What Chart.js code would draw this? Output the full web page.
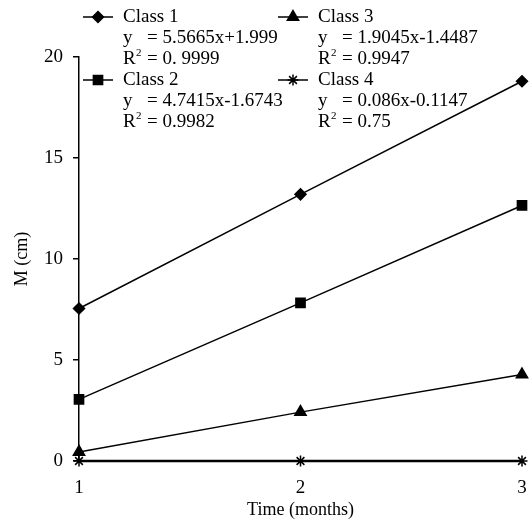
<!DOCTYPE html>
<html>
<head>
<meta charset="utf-8">
<script src="https://cdn.jsdelivr.net/npm/chart.js@4/dist/chart.umd.min.js"></script>
<style>
  html, body { margin: 0; padding: 0; background: #fff; }
  #wrap { width: 530px; height: 522px; }
</style>
</head>
<body>
<div id="wrap"><canvas id="myChart"></canvas></div>
<script>
const months = [1, 2, 3];
const class1 = [7.55, 13.2, 18.8];
const class2 = [3.05, 7.83, 12.65];
const class3 = [0.45, 2.42, 4.28];
const class4 = [0, 0, 0];
const yTicks = [0, 5, 10, 15, 20];

const seriesNames = ['Class 1', 'Class 2', 'Class 3', 'Class 4'];
const equations = ['= 5.5665x+1.999', '= 4.7415x-1.6743', '= 1.9045x-1.4487', '= 0.086x-0.1147'];
const rSquared = ['= 0. 9999', '= 0.9982', '= 0.9947', '= 0.75'];
const styles = ['rectRot', 'rect', 'triangle', 'star'];
const radii = [5.5, 6.5, 6.5, 5.5];

const FONT = '"Liberation Serif", "DejaVu Serif", serif';

function toPoints(vals) {
  return months.map((m, i) => ({ x: m, y: vals[i] }));
}

const allSeries = [class1, class2, class3, class4];

// legend with the fit equations, drawn in the top of the plot
const eqLegend = {
  id: 'eqLegend',
  afterDraw(chart) {
    const c = chart.ctx;
    c.save();
    c.fillStyle = '#000';
    c.textBaseline = 'middle';
    const cols = [83, 278];
    const rows = [17, 80];
    const order = [[0, 0], [1, 0], [0, 1], [1, 1]]; // [row, col] for each class
    order.forEach((rc, i) => {
      const lx = cols[rc[1]];
      const ly = rows[rc[0]];
      const tx = lx + 40;
      c.strokeStyle = '#000';
      c.lineWidth = 1.5;
      c.beginPath();
      c.moveTo(lx, ly);
      c.lineTo(lx + 30, ly);
      c.stroke();
      Chart.helpers.drawPoint(c, {
        pointStyle: styles[i], radius: radii[i], borderWidth: 1.5, rotation: 0
      }, lx + 15, ly);
      c.fillStyle = '#000';
      c.font = '19px ' + FONT;
      c.fillText(seriesNames[i], tx, ly);
      c.fillText('y', tx, ly + 21);
      c.fillText(equations[i], tx + 24, ly + 21);
      c.fillText('R', tx, ly + 42);
      c.fillText(rSquared[i], tx + 24, ly + 42);
      c.font = '11px ' + FONT;
      c.fillText('2', tx + 13, ly + 36);
    });
    c.restore();
  }
};

new Chart(document.getElementById('myChart'), {
  type: 'line',
  data: {
    datasets: allSeries.map((vals, i) => ({
      label: seriesNames[i],
      data: toPoints(vals),
      borderColor: '#000',
      backgroundColor: '#000',
      borderWidth: i === 3 ? 2.5 : 1.5,
      pointStyle: styles[i],
      pointRadius: radii[i],
      pointBorderWidth: 1.5,
      pointBorderColor: '#000',
      pointBackgroundColor: '#000',
      tension: 0,
      clip: false
    }))
  },
  options: {
    responsive: true,
    maintainAspectRatio: false,
    animation: false,
    layout: { padding: { top: 57, right: 3, left: 11, bottom: 1 } },
    plugins: {
      legend: { display: false },
      tooltip: { enabled: false }
    },
    scales: {
      x: {
        type: 'linear',
        min: 1,
        max: 3,
        afterBuildTicks(scale) { scale.ticks = months.map(v => ({ value: v })); },
        afterFit(scale) { scale.paddingRight = 0; scale.paddingLeft = 0; scale.height = 60; },
        grid: { display: false, drawTicks: false },
        border: { display: true, color: '#000', width: 2 },
        ticks: { color: '#000', font: { family: FONT, size: 19 }, padding: 16 },
        title: { display: true, text: 'Time (months)', color: '#000', font: { family: FONT, size: 18 }, padding: { top: 0, bottom: 0 } }
      },
      y: {
        min: 0,
        max: 20,
        afterBuildTicks(scale) { scale.ticks = yTicks.map(v => ({ value: v })); },
        afterFit(scale) { scale.width = 68; },
        grid: { drawOnChartArea: false, drawTicks: true, tickLength: 6, color: '#000', lineWidth: 1.5 },
        border: { display: true, color: '#000', width: 1.5 },
        ticks: { color: '#000', font: { family: FONT, size: 19 }, padding: 10 },
        title: { display: true, text: 'M (cm)', color: '#000', font: { family: FONT, size: 18 }, padding: { top: 0, bottom: 0 } }
      }
    }
  },
  plugins: [eqLegend]
});
</script>
</body>
</html>
